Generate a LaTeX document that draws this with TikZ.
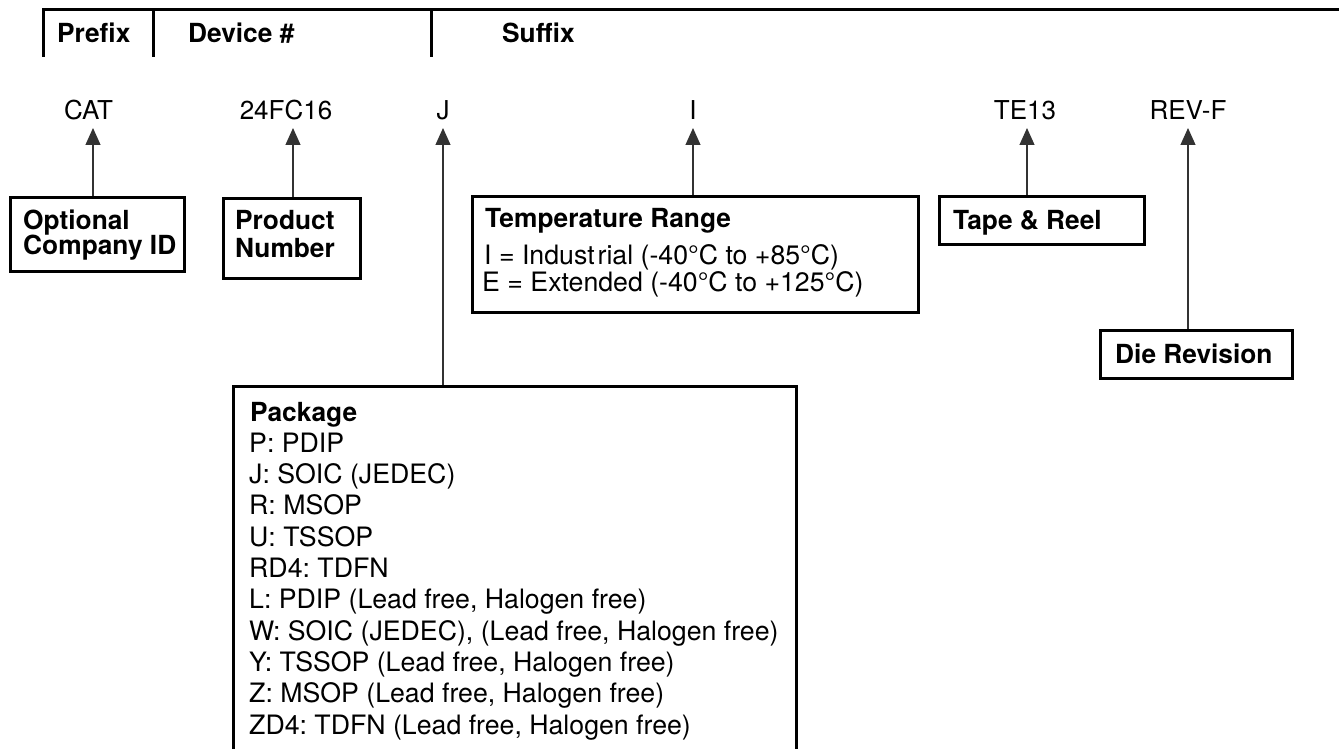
\documentclass[tikz,border=0pt]{standalone}
\usepackage{fontspec}
\setmainfont{TeX Gyre Heros}
\usetikzlibrary{arrows.meta}
\begin{document}
\frenchspacing
\begin{tikzpicture}[x=1pt,y=-1pt,
  reg/.style={font=\fontsize{26.7}{30}\selectfont, inner sep=0pt, anchor=base west},
  bld/.style={font=\fontsize{26.3}{30}\selectfont\bfseries, inner sep=0pt, anchor=base west},
  lbl/.style={font=\fontsize{26}{30}\selectfont, inner sep=0pt, anchor=base},
  box/.style={draw, line width=2.5pt, inner sep=0pt, anchor=north west},
  arr/.style={draw=black!80, line width=1.2pt, -{Triangle[length=17pt,width=15pt]}},
  hdr/.style={line width=3pt}]
\useasboundingbox (0,0) rectangle (1339,749);
\clip (0,0) rectangle (1339,749);

% header
\draw[hdr] (43,57) -- (43,9.5) -- (1339,9.5);
\draw[hdr] (153,9.5) -- (153,57);
\draw[hdr] (431,9.5) -- (431,57);
\node[bld] (hprefix) at (57,43) {Prefix};
\node[bld] (hdevice) at (188,43) {Device \#};
\node[bld] (hsuffix) at (502,43) {Suffix};

% top labels
\node[lbl] (cat) at (88.5,120) {CAT};
\node[lbl] (dev) at (286,120) {24FC16};
\node[lbl] (pkgl) at (443,120) {J};
\node[lbl] (tmpl) at (693,120) {I};
\node[lbl] (tape) at (1025,120) {TE13};
\node[lbl] (rev) at (1188,120) {REV-F};

\coordinate (catT) at (93,128);
\coordinate (devT) at (293,128);
\coordinate (pkgT) at (443,128);
\coordinate (tmpT) at (693,128);
\coordinate (tapeT) at (1027,128);
\coordinate (revT) at (1188,128);

% boxes
\node[box, minimum width=174pt, minimum height=74pt] (optbox) at (9,196) {};
\node[box, minimum width=137pt, minimum height=80pt] (prodbox) at (222,197) {};
\node[box, minimum width=446pt, minimum height=116pt] (tempbox) at (471,195) {};
\node[box, minimum width=205pt, minimum height=48pt] (tapebox) at (938,195) {};
\node[box, minimum width=192pt, minimum height=48pt] (diebox) at (1099,329) {};
\node[box, minimum width=563pt, minimum height=420pt] (pkgbox) at (232,385) {};

% box texts
\node[bld] (opt1) at (23,229) {Optional};
\node[bld] (opt2) at (23,254) {Company ID};
\node[bld] (prod1) at (235,229) {Product};
\node[bld] (prod2) at (235,257) {Number};
\node[bld] (temp0) at (485,227) {Temperature Range};
\node[reg] (temp1) at (484,264) {I = Indust\kern3pt rial (-40°C to +85°C)};
\node[reg] (temp2) at (482,291) {E = Extended (-40°C to +125°C)};
\node[bld] (tapet) at (953,229) {Tape \& Reel};
\node[bld] (diet) at (1115,363) {Die Revision};
\node[bld] (pk0) at (250,421) {Package};
\foreach \t [count=\i] in {P: PDIP, J: SOIC (JEDEC), R: MSOP, U: TSSOP, RD4: TDFN,
  L: PDIP (Lead free{,} Halogen free), W: SOIC (JEDEC){,} (Lead free{,} Halogen free),
  Y: TSSOP (Lead free{,} Halogen free), Z: MSOP (Lead free{,} Halogen free),
  ZD4: TDFN (Lead free{,} Halogen free)}
  \node[reg] (pk\i) at (249,{421+\i*31.3}) {\t};

% connectors
\draw[arr] (catT |- optbox.north) -- (catT);
\draw[arr] (devT |- prodbox.north) -- (devT);
\draw[arr] (pkgT |- pkgbox.north) -- (pkgT);
\draw[arr] (tmpT |- tempbox.north) -- (tmpT);
\draw[arr] (tapeT |- tapebox.north) -- (tapeT);
\draw[arr] (revT |- diebox.north) -- (revT);
\end{tikzpicture}
\end{document}
